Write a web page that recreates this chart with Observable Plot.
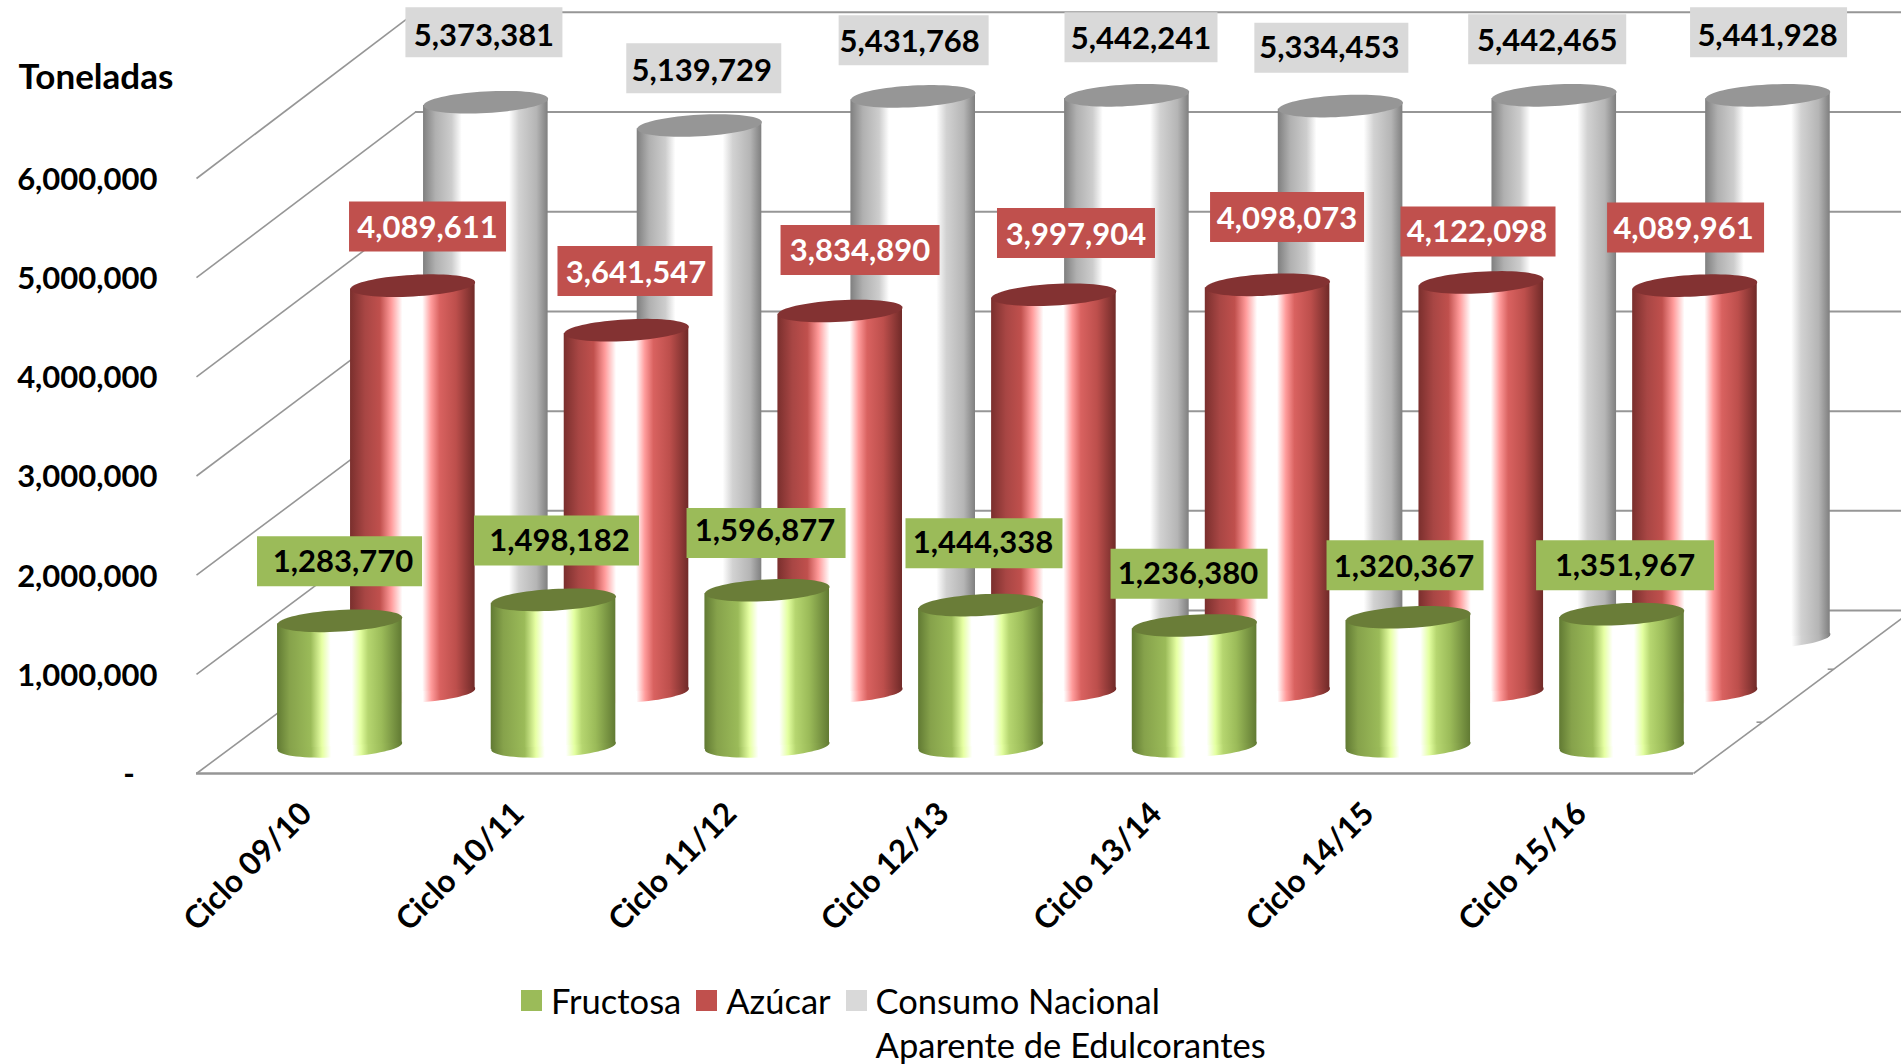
<!DOCTYPE html>
<html lang="es">
<head>
<meta charset="utf-8">
<script src="https://cdn.jsdelivr.net/npm/d3@7"></script>
<script src="https://cdn.jsdelivr.net/npm/@observablehq/plot@0.6"></script>
<style>
  html, body { margin: 0; padding: 0; background: #fff; overflow: hidden; }
  body { width: 1901px; height: 1064px; font-family: Lato, sans-serif; color: #000; }
  svg { display: block; }
  #legend { display: flex; align-items: flex-start; margin-left: 521px; padding-top: 4px; font-size: 34.5px; line-height: 44px; }
  #legend .key { width: 21px; height: 21px; margin: 11px 9px 0 0; flex: none; }
  #legend .item { display: flex; margin-right: 15px; }
</style>
</head>
<body>
<div id="chart"></div>
<div id="legend"></div>
<script>
// ---- data ----
const categories = ["Ciclo 09/10","Ciclo 10/11","Ciclo 11/12","Ciclo 12/13","Ciclo 13/14","Ciclo 14/15","Ciclo 15/16"];
const fructosa = [1283770,1498182,1596877,1444338,1236380,1320367,1351967];
const azucar   = [4089611,3641547,3834890,3997904,4098073,4122098,4089961];
const consumo  = [5373381,5139729,5431768,5442241,5334453,5442465,5441928];
const yTicks = [0,1000000,2000000,3000000,4000000,5000000,6000000];
const legendNames = ["Fructosa","Azúcar","Consumo Nacional<br>Aparente de Edulcorantes"];

// ---- oblique projection (in data units) ----
const depthX = 1.024, depthY = 1643000, wallStretch = 1.0054, spacing = 0.9992, tickSpacing = 0.9935;
const halfWidth = 0.2913, tiltY = 33000;
const rx = 62.4, ry = 10.8, tiltRad = -3.2 * Math.PI / 180;

// ---- label placement relative to the top of each cylinder (pixels), box width, text offset ----
const nudgeFructosa = {dx:[-0.4,2.7,-1.6,2.5,-6.3,-4.2,2], dy:[-57.7,-57.4,-55.1,-59.8,-49.9,-50.1,-46.9], w:[165,165,159,157,157,157,178],
  tx:[3.5,3,-1,-1,-1,-1,0], ty:[1,1,-2,0,0,2,1]};
const nudgeAzucar   = {dx:[14.6,8.2,19.4,21.5,18.7,-4.2,-10.5], dy:[-59.9,-59.9,-61.7,-62.5,-68.6,-51.7,-58.9], w:[157,155,159,158,154,155,157],
  tx:[0,1,0,0,0,-1,-2], ty:[1,2,1,2,2,1,2]};
const nudgeConsumo  = {dx:[-2,4,0,13.5,-10,-8,-0.5], dy:[-72.6,-59.8,-58.8,-60.8,-61,-58.8,-65.8], w:[157,155,150,153,154,158,157],
  tx:[0,-2,-4,0,-2,0,-1], ty:[3.5,2.5,1.5,1.5,0,1.5,3.5]};

const series = [
  {id:"gris", values:consumo, depth:5/6, stretch:1.005, nudge:nudgeConsumo, box:"#d9d9d9", ink:"#000", cap:"#969696",
   stops:[[0,"#7f7f7f"],[.1,"#b0b0b0"],[.23,"#cdcdcd"],[.31,"#ffffff"],[.69,"#ffffff"],[.77,"#d2d2d2"],[.91,"#b5b5b5"],[1,"#7f7f7f"]]},
  {id:"rojo", values:azucar, depth:1/2, stretch:1.002, nudge:nudgeAzucar, box:"#c0504d", ink:"#fff", cap:"#833232",
   stops:[[0,"#7a2f2d"],[.12,"#a84644"],[.24,"#c0504d"],[.33,"#ff9a9a"],[.42,"#ffffff"],[.58,"#ffffff"],[.65,"#ff9c9c"],[.72,"#d96260"],[.85,"#bd4f4c"],[1,"#702a28"]]},
  {id:"verde", values:fructosa, depth:1/6, stretch:0.986, nudge:nudgeFructosa, box:"#9bbb59", ink:"#000", cap:"#6a7d38",
   stops:[[0,"#617a33"],[.1,"#86a24b"],[.27,"#9bbb59"],[.36,"#e6ffa3"],[.43,"#ffffff"],[.6,"#ffffff"],[.67,"#e3ffa0"],[.73,"#b6d670"],[.84,"#9bbb59"],[1,"#617a33"]]}
];

// ---- custom symbols ----
const ellipseSymbol = {draw(ctx) {
  const n = 72, c = Math.cos(tiltRad), s = Math.sin(tiltRad);
  for (let k = 0; k < n; ++k) {
    const a = 2 * Math.PI * k / n, ex = rx * Math.cos(a), ey = ry * Math.sin(a);
    const px = ex * c - ey * s, py = ex * s + ey * c;
    k ? ctx.lineTo(px, py) : ctx.moveTo(px, py);
  }
  ctx.closePath();
}};
const boxSymbol = (w, h) => ({draw(ctx) {
  ctx.moveTo(-w/2, -h/2); ctx.lineTo(w/2, -h/2); ctx.lineTo(w/2, h/2); ctx.lineTo(-w/2, h/2); ctx.closePath();
}});

const gradients = () => {
  const defs = d3.create("svg:defs");
  for (const s of series) {
    const g = defs.append("linearGradient").attr("id", "grad-" + s.id).attr("x1", 0).attr("x2", 1).attr("y1", 0).attr("y2", 0);
    for (const [o, c] of s.stops) g.append("stop").attr("offset", o).attr("stop-color", c);
  }
  return defs.node();
};

const fmt = d3.format(",");
const cylinderMarks = [], labelMarks = [];
for (const s of series) {
  const rows = s.values.map((v, i) => ({
    i, v,
    x: (i + 0.5) * spacing + depthX * s.depth,
    base: depthY * s.depth,
    top: v * s.stretch + depthY * s.depth,
    labelX: i + 0.5 + depthX * s.depth,
    labelY: v + depthY * s.depth
  }));
  const sides = rows.flatMap(r => [
    {i:r.i, x:r.x - halfWidth, y0:r.base - tiltY, y1:r.top - tiltY},
    {i:r.i, x:r.x + halfWidth, y0:r.base + tiltY, y1:r.top + tiltY}
  ]);
  const fill = `url(#grad-${s.id})`;
  cylinderMarks.push(
    Plot.dot(rows, {x:"x", y:"base", symbol:ellipseSymbol, fill}),
    Plot.area(sides, {x1:"x", y1:"y0", y2:"y1", z:"i", fill, curve:"linear"}),
    Plot.dot(rows, {x:"x", y:"top", symbol:ellipseSymbol, fill:s.cap})
  );
  rows.forEach((r, i) => {
    const n = s.nudge, dx = n.dx[i], dy = n.dy[i];
    labelMarks.push(
      Plot.dot([r], {x:"labelX", y:"labelY", dx, dy, symbol:boxSymbol(n.w[i], 50), fill:s.box}),
      Plot.text([r], {x:"labelX", y:"labelY", dx:dx + n.tx[i], dy:dy + n.ty[i], text:d => fmt(d.v), fill:s.ink, fontSize:31, fontWeight:700})
    );
  });
}

const grid = "#969696";
const chart = Plot.plot({
  width: 1901, height: 975,
  marginLeft: 196, marginRight: 208, marginTop: 178, marginBottom: 202,
  style: {fontFamily: "Lato, sans-serif", color: "#000", background: "transparent", overflow: "hidden"},
  x: {domain: [0, 7]},
  y: {domain: [0, 6000000]},
  marks: [
    gradients,
    Plot.ruleY(yTicks, {y:d => d * wallStretch + depthY, x1:() => depthX, x2:() => 7 + depthX, stroke:grid, strokeWidth:2}),
    Plot.link(yTicks, {x1:() => 0, y1:d => d, x2:() => depthX, y2:d => d * wallStretch + depthY, stroke:grid, strokeWidth:1.6}),
    Plot.link([0], {x1:() => 7, y1:d => d, x2:() => 7 + depthX, y2:d => d + depthY, stroke:grid, strokeWidth:1.6}),
    Plot.ruleY([0], {x1:() => 0, x2:() => 7, stroke:grid, strokeWidth:2.4}),
    Plot.link([0.315, 0.64], {x1:d => 7 + depthX * d - 0.028, y1:d => depthY * d, x2:d => 7 + depthX * d, y2:d => depthY * d, stroke:grid, strokeWidth:1.6}),
    ...cylinderMarks,
    ...labelMarks,
    Plot.axisY({ticks:yTicks, tickSize:0, tickPadding:39, label:null, fontSize:31, fontWeight:700, dy:1.5,
      tickFormat:d => d ? fmt(d) : "-\u00a0\u00a0\u00a0"}),
    Plot.axisX({ticks:categories.map((c, i) => 0.5 + i * tickSpacing), tickFormat:d => categories[Math.round((d - 0.5) / tickSpacing)], tickRotate:-45, tickSize:0, tickPadding:35, dx:3, label:null, fontSize:31.5, fontWeight:700}),
    Plot.text(["Toneladas"], {frameAnchor:"top-left", dx:-178, dy:-101, text:d => d, fontSize:35, fontWeight:700, textAnchor:"start", lineAnchor:"middle"})
  ]
});
document.getElementById("chart").append(chart);

const legend = document.getElementById("legend");
series.slice().reverse().forEach((s, i) => {
  const item = document.createElement("div");
  item.className = "item";
  item.innerHTML = `<span class="key" style="background:${s.box}"></span><span>${legendNames[i]}</span>`;
  legend.append(item);
});
</script>
</body>
</html>
